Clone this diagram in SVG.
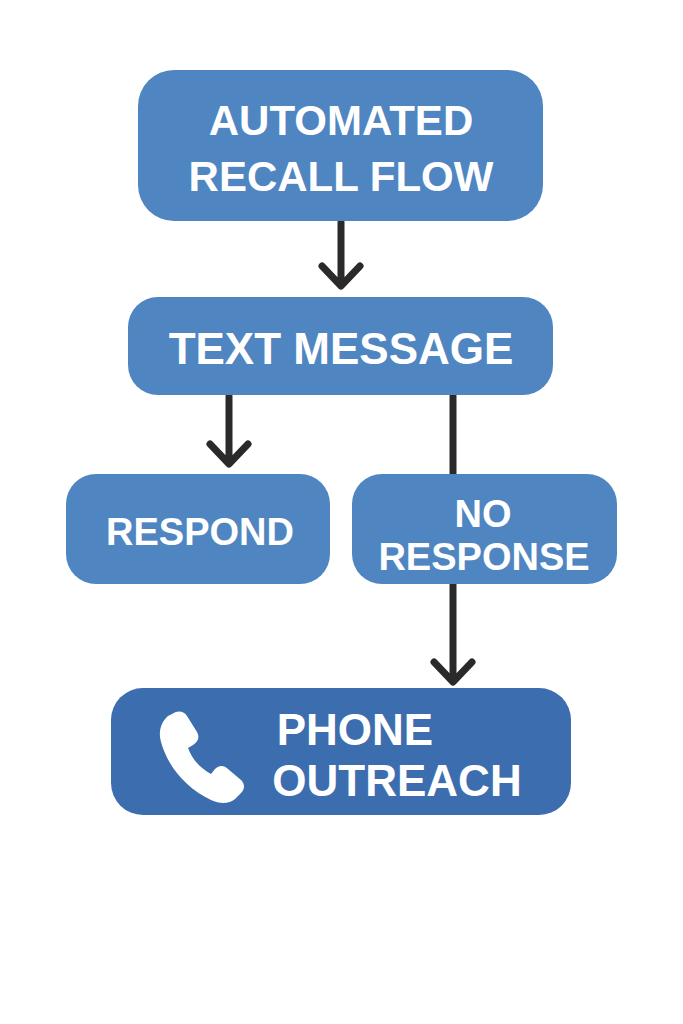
<svg xmlns="http://www.w3.org/2000/svg" width="683" height="1024" viewBox="0 0 683 1024">
<style>
.box{fill:#4f86c1}
.dark{fill:#3c6dae}
.t{fill:#fff;font-family:"Liberation Sans",Arial,sans-serif;font-weight:bold;text-anchor:middle}
.c{stroke:#2a2a2a;stroke-width:7;fill:none;stroke-linecap:round;stroke-linejoin:round}
</style>
<rect width="683" height="1024" fill="#fff"/>
<g id="connectors">
<path class="c" d="M341 222V284M322 266L341 286L360 266"/>
<path class="c" d="M229 396V462M210 444L229 464L248 444"/>
<path class="c" d="M453 396V474"/>
<path class="c" d="M453 584V680M434 662L453 682L472 662"/>
</g>
<g id="n1"><rect class="box" x="138" y="70" width="405" height="151" rx="36"/>
<text class="t" x="341" y="135" font-size="42">AUTOMATED</text>
<text class="t" x="341" y="191" font-size="42">RECALL FLOW</text></g>
<g id="n2"><rect class="box" x="128" y="297" width="425" height="98" rx="30"/>
<text class="t" x="341" y="364" font-size="44">TEXT MESSAGE</text></g>
<g id="n3"><rect class="box" x="66" y="474" width="264" height="110" rx="30"/>
<text class="t" x="200" y="545" font-size="38">RESPOND</text></g>
<g id="n4"><rect class="box" x="352" y="474" width="265" height="110" rx="30"/>
<text class="t" x="483" y="527" font-size="38">NO</text>
<text class="t" x="484" y="570" font-size="38">RESPONSE</text></g>
<g id="n5"><rect class="dark" x="111" y="688" width="460" height="127" rx="32"/>
<path fill="#fff" d="M172 714c6-4 12-3 15 2l10 16c3 5 1 10-4 13l-5 3c4 11 12 20 23 26l4-5c4-4 9-4 13 0l13 11c4 4 4 9 0 13l-6 6c-6 5-15 5-24 1c-25-12-43-33-50-58c-3-10 0-20 7-26z"/>
<text class="t" x="355" y="745" font-size="44">PHONE</text>
<text class="t" x="397" y="796" font-size="44">OUTREACH</text></g>
</svg>
